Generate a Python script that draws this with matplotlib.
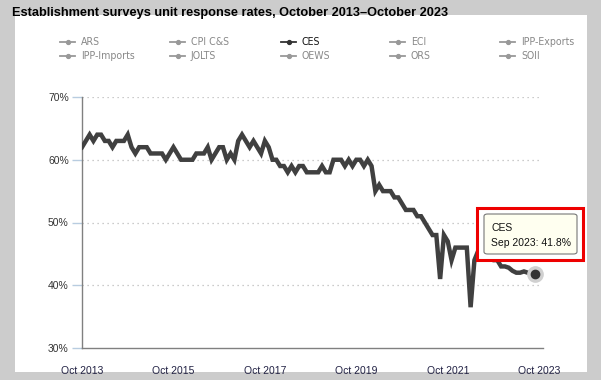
import matplotlib.pyplot as plt
from matplotlib.lines import Line2D
from matplotlib.patches import Rectangle, FancyBboxPatch

# CES unit response rate (%), monthly Oct 2013 - Sep 2023
ces = [62, 63, 64, 63, 64, 64, 63, 63, 62, 63, 63, 63, 64, 62, 61, 62, 62, 62, 61, 61,
       61, 61, 60, 61, 62, 61, 60, 60, 60, 60, 61, 61, 61, 62, 60, 61, 62, 62, 60, 61,
       60, 63, 64, 63, 62, 63, 62, 61, 63, 62, 60, 60, 59, 59, 58, 59, 58, 59, 59, 58,
       58, 58, 58, 59, 58, 58, 60, 60, 60, 59, 60, 59, 60, 60, 59, 60, 59, 55, 56, 55,
       55, 55, 54, 54, 53, 52, 52, 52, 51, 51, 50, 49, 48, 48, 41, 48, 47, 44, 46, 46,
       46, 46, 36.5, 44, 45.5, 45.5, 45, 44.5, 44, 44, 43, 43, 42.8, 42.3, 42, 42, 42.2, 42, 42, 41.8]
months = list(range(len(ces)))

tick_pos = [0, 24, 48, 72, 96, 120]
tick_labels = ['Oct 2013', 'Oct 2015', 'Oct 2017', 'Oct 2019', 'Oct 2021', 'Oct 2023']
y_ticks = [30, 40, 50, 60, 70]

legend_names = ['ARS', 'CPI C&S', 'CES', 'ECI', 'IPP-Exports',
                'IPP-Imports', 'JOLTS', 'OEWS', 'ORS', 'SOII']
active = 'CES'

title = 'Establishment surveys unit response rates, October 2013\u2013October 2023'
tip_label = 'Sep 2023: 41.8%'

W, H = 601, 380
fig = plt.figure(figsize=(W / 100, H / 100), dpi=100, facecolor='#cccccc')


def fx(px):
    return px / W


def fy(py):
    return 1 - py / H


# white panel
fig.patches.append(Rectangle((fx(15), fy(372)), fx(587) - fx(15), fy(15) - fy(372),
                             transform=fig.transFigure, facecolor='white',
                             edgecolor='none', zorder=-5))

fig.text(fx(12), fy(13), title, fontsize=9.2, fontweight='bold', va='center',
         ha='left', family='Liberation Sans', color='black')

# legend (manual, fixed-width columns)
col_x = [60, 170, 281, 390, 500]
row_y = [42, 56]
for i, name in enumerate(legend_names):
    x0 = col_x[i % 5]
    y0 = row_y[i // 5]
    c = '#333333' if name == active else '#999999'
    tc = '#111111' if name == active else '#888888'
    fig.lines.append(Line2D([fx(x0), fx(x0 + 15)], [fy(y0), fy(y0)], color=c, lw=1.3,
                            transform=fig.transFigure))
    fig.lines.append(Line2D([fx(x0 + 7.5)], [fy(y0)], marker='o', markersize=2.8, color=c,
                            transform=fig.transFigure))
    fig.text(fx(x0 + 21), fy(y0), name, fontsize=7.6, color=tc, va='center', ha='left',
             family='DejaVu Sans', stretch='condensed')

ax = fig.add_axes([fx(82), fy(348), fx(543) - fx(82), fy(97) - fy(348)])
ax.set_zorder(1)
ax.patch.set_alpha(0)
ax.plot(months, ces, color='#404040', lw=3.2, solid_joinstyle='miter', zorder=3)
# highlighted last point
ax.plot(months[-1], ces[-1], 'o', markersize=11, color='#d0d0d0', zorder=4)
ax.plot(months[-1], ces[-1], 'o', markersize=6, color='#333333', zorder=5)

ax.set_xlim(0, 121)
ax.set_ylim(30, 70)
ax.set_yticks(y_ticks)
ax.set_yticklabels([f'{v}%' for v in y_ticks])
ax.set_xticks(tick_pos)
ax.set_xticklabels(tick_labels)
for v in y_ticks[1:]:
    ax.plot([0, 120], [v, v], color='#bbbbbb', lw=0.9, ls=(0, (1, 3)), zorder=1)

for s in ['top', 'right']:
    ax.spines[s].set_visible(False)
for s in ['left', 'bottom']:
    ax.spines[s].set_color('#808080')
    ax.spines[s].set_linewidth(1.0)
ax.tick_params(axis='y', length=7.5, color='#b8cce0', width=1, labelsize=7.5,
               labelcolor='#333333', pad=2)
ax.tick_params(axis='x', length=0, labelsize=7.5, labelcolor='#222244', pad=13)
for t in ax.get_xticklabels() + ax.get_yticklabels():
    t.set_family('Liberation Sans')

# tooltip
fig.patches.append(Rectangle((fx(477), fy(260)), fx(583) - fx(477), fy(208) - fy(260),
                             transform=fig.transFigure, facecolor='white',
                             edgecolor='#ee0000', lw=2.2, zorder=10))
fig.patches.append(FancyBboxPatch((fx(484), fy(254)), fx(577) - fx(484), fy(214) - fy(254),
                                  boxstyle='round,pad=0,rounding_size=0.006',
                                  transform=fig.transFigure, facecolor='#fffff0',
                                  edgecolor='#777777', lw=0.8, zorder=11))
fig.text(fx(491), fy(228), active, fontsize=7.5, color='#111111', va='center',
         ha='left', family='Liberation Sans', zorder=12)
fig.text(fx(491), fy(243), tip_label, fontsize=7.5, color='#111111', va='center',
         ha='left', family='Liberation Sans', zorder=12)

fig.savefig('out.png', dpi=100, facecolor=fig.get_facecolor())
